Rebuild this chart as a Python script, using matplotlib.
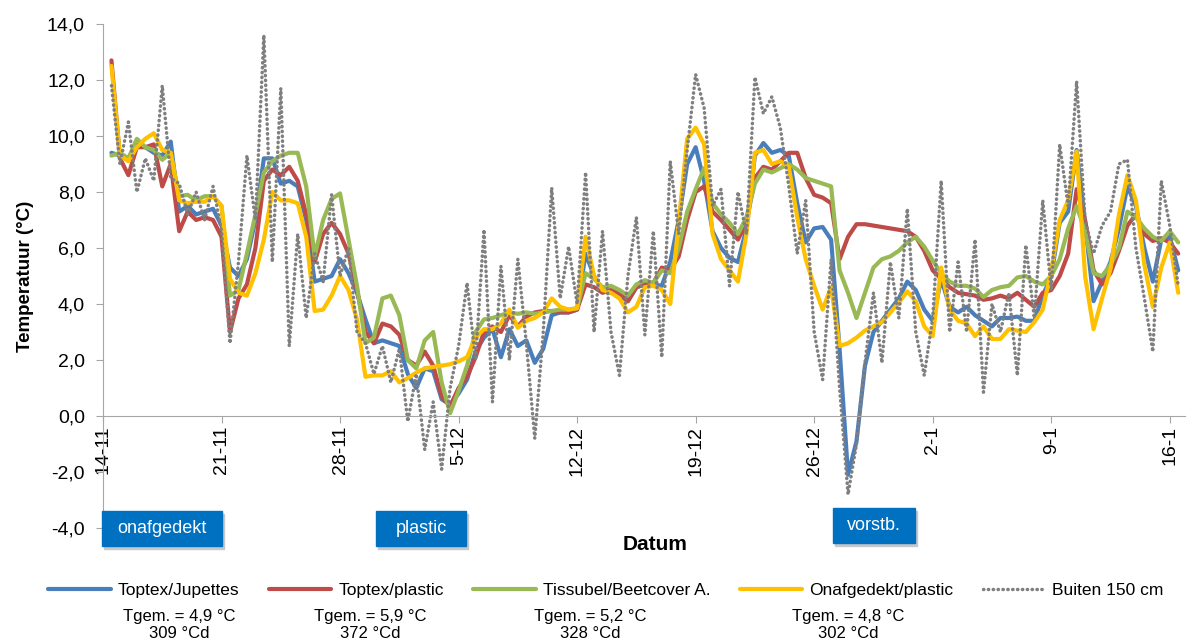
import numpy as np
import matplotlib.pyplot as plt
from matplotlib.patches import Rectangle
from matplotlib.ticker import FuncFormatter

plt.rcParams['font.family'] = ['Liberation Sans', 'DejaVu Sans']

# measurement times: days after 14-11, every 12 hours
days = np.arange(0.5, 64.0, 0.5)

# temperatures (deg C), one row = 5 days
toptex_jupettes = [
    9.4, 9.3, 9.2, 9.7, 9.6, 9.4, 9.3, 9.8, 7.3, 7.5,
    7.2, 7.3, 7.4, 6.8, 5.3, 5.0, 5.6, 7.0, 9.2, 9.2,
    8.3, 8.4, 8.2, 7.0, 4.8, 4.9, 5.0, 5.6, 5.1, 4.4,
    3.45, 2.6, 2.7, 2.6, 2.5, 1.5, 1.0, 1.7, 1.6, 0.6,
    0.4, 0.8, 1.3, 2.3, 2.8, 3.1, 2.1, 3.1, 2.5, 2.7,
    1.9, 2.4, 3.6, 3.7, 3.7, 3.8, 5.8, 5.0, 4.5, 4.4,
    4.3, 4.1, 4.6, 4.7, 4.7, 4.65, 5.5, 7.0, 9.0, 9.6,
    8.4, 6.6, 6.0, 5.65, 5.5, 6.7, 9.3, 9.75, 9.4, 9.5,
    9.3, 7.6, 6.2, 6.7, 6.75, 6.3, 2.4, -2.1, -0.9, 1.8,
    3.0, 3.4, 3.8, 4.2, 4.8, 4.5, 3.8, 3.4, 4.9, 3.9,
    3.7, 3.9, 3.6, 3.4, 3.2, 3.5, 3.5, 3.55, 3.4, 3.4,
    4.3, 5.0, 6.9, 7.3, 9.5, 6.9, 4.1, 4.8, 5.5, 6.7,
    8.2, 7.5, 6.0, 4.8, 6.3, 6.4, 5.2,
]

toptex_plastic = [
    12.7, 9.2, 8.6, 9.6, 9.6, 9.7, 8.2, 9.0, 6.6, 7.3,
    7.0, 7.1, 7.0, 6.4, 3.0, 4.2, 4.7, 6.0, 8.4, 8.8,
    8.6, 8.9, 8.4, 7.2, 5.5, 6.5, 6.9, 6.5, 5.8, 4.5,
    3.0, 2.6, 3.3, 3.2, 2.9, 2.0, 1.8, 2.3, 1.8, 0.7,
    0.35, 1.0, 1.4, 2.1, 3.0, 3.2, 3.0, 3.6, 3.2, 3.55,
    3.7, 3.75, 3.75, 3.7, 3.7, 3.8, 4.7, 4.6, 4.4, 4.5,
    4.4, 4.1, 4.6, 4.7, 4.75, 5.3, 5.2, 5.7, 7.0, 8.0,
    8.2, 7.3, 7.0, 6.65, 6.3, 6.9, 8.5, 8.9, 8.8, 9.1,
    9.4, 9.4, 8.5, 7.9, 7.8, 7.6, 5.6, 6.4, 6.85, 6.85,
    6.8, 6.75, 6.7, 6.65, 6.6, 6.4, 5.9, 5.2, 4.9, 4.6,
    4.4, 4.35, 4.3, 4.15, 4.2, 4.3, 4.2, 4.4, 4.15, 3.9,
    4.4, 4.5, 5.0, 5.8, 8.1, 7.0, 5.2, 4.7, 5.1, 5.9,
    6.8, 7.2, 6.5, 6.25, 6.35, 6.2, 5.8,
]

tissubel_beetcover = [
    9.3, 9.4, 9.2, 9.9, 9.6, 9.5, 9.15, 9.4, 7.85, 7.9,
    7.7, 7.85, 7.85, 7.5, 4.3, 4.5, 5.8, 7.2, 8.7, 9.1,
    9.3, 9.4, 9.4, 8.2, 5.7, 7.0, 7.75, 7.95, 6.3, 4.65,
    2.6, 2.8, 4.2, 4.3, 3.6, 2.0, 1.7, 2.7, 3.0, 1.2,
    0.1, 0.9, 1.8, 3.0, 3.45, 3.5, 3.6, 3.7, 3.65, 3.7,
    3.65, 3.7, 3.75, 3.8, 3.8, 3.85, 5.1, 4.9, 4.6, 4.65,
    4.5, 4.3, 4.7, 4.85, 4.75, 5.2, 5.1, 6.0, 7.3, 8.1,
    8.85, 7.6, 7.2, 6.9, 6.5, 7.1, 8.3, 8.8, 8.7, 8.85,
    9.0, 8.8, 8.5, 8.4, 8.3, 8.2, 5.2, 4.4, 3.5, 4.4,
    5.3, 5.6, 5.7, 5.9, 6.2, 6.4, 6.05, 5.55, 5.1, 4.8,
    4.65, 4.65, 4.55, 4.25, 4.5, 4.6, 4.65, 4.95, 5.0, 4.8,
    4.7, 5.0, 5.6, 6.7, 7.5, 6.6, 5.1, 5.0, 5.4, 6.0,
    7.3, 7.1, 6.7, 6.4, 6.25, 6.6, 6.2,
]

onafgedekt_plastic = [
    12.5, 9.3, 9.1, 9.6, 9.9, 10.1, 9.5, 9.4, 7.7, 7.6,
    7.65, 7.65, 7.85, 7.5, 4.9, 4.4, 4.3, 5.1, 6.3, 8.0,
    7.7, 7.7, 7.6, 6.4, 3.75, 3.8, 4.3, 5.0, 4.5, 3.45,
    1.4, 1.45, 1.45, 1.6, 1.2, 1.35, 1.55, 1.7, 1.75, 1.8,
    1.85, 1.95, 2.1, 2.8, 3.1, 3.1, 3.3, 3.8, 3.15, 3.4,
    3.5, 3.7, 4.2, 3.9, 3.8, 3.85, 6.4, 5.0, 4.5, 4.4,
    4.2, 3.7, 3.9, 4.6, 4.65, 4.5, 4.0, 6.9, 9.9, 10.3,
    9.7, 6.5, 5.6, 5.2, 4.8, 6.5, 9.4, 9.5, 9.0, 9.1,
    8.9, 7.1, 5.6, 4.65, 3.8, 4.6, 2.5, 2.6, 2.8, 3.05,
    3.2, 3.35, 3.7, 4.05, 4.45, 4.1, 3.2, 2.85, 5.3, 3.8,
    3.4, 3.3, 2.85, 3.2, 2.75, 2.75, 3.1, 3.05, 3.0, 3.35,
    3.8, 5.2, 7.0, 7.7, 9.45, 5.0, 3.1, 4.2, 5.25, 7.2,
    8.6, 7.7, 5.4, 3.9, 5.3, 6.2, 4.4,
]

buiten_150 = [
    11.8, 9.0, 10.5, 8.0, 9.2, 8.4, 11.8, 8.5, 8.3, 7.2,
    8.0, 7.0, 8.2, 6.6, 2.6, 5.5, 9.3, 7.0, 13.6, 5.5,
    11.7, 2.5, 6.5, 3.5, 5.8, 4.8, 7.9, 5.0, 6.0, 3.0,
    2.6, 1.5, 2.5, 1.2, 2.4, -0.2, 1.5, -1.2, 0.5, -1.9,
    1.0, 2.5, 4.75, 2.0, 6.65, 0.5, 5.35, 2.0, 5.6, 2.6,
    -0.8, 3.0, 8.15, 4.2, 6.05, 4.0, 8.7, 3.0, 6.6, 3.0,
    1.45, 5.0, 7.1, 2.9, 6.6, 2.1, 9.1, 6.5, 9.5, 12.2,
    11.0, 7.5, 8.1, 4.65, 8.0, 6.5, 12.1, 10.8, 11.4, 10.3,
    8.2, 5.8, 7.7, 3.0, 1.3, 5.6, 1.0, -2.8, -1.0, 1.9,
    4.4, 1.9, 5.5, 3.5, 7.4, 3.0, 1.45, 3.5, 8.4, 3.0,
    5.5, 3.0, 6.3, 0.85, 4.0, 3.0, 4.4, 1.45, 6.1, 3.5,
    7.7, 4.5, 9.7, 7.5, 11.95, 7.0, 5.8, 6.8, 7.3, 9.0,
    9.15, 6.0, 4.2, 2.3, 8.4, 6.8, 4.65,
]

series_names = ['Toptex/Jupettes', 'Toptex/plastic', 'Tissubel/Beetcover A.', 'Onafgedekt/plastic']
series_colors = ['#4a7ebb', '#be4b48', '#98b954', '#ffc000']
tgem = ['4,9', '5,9', '5,2', '4,8']
graaddagen = ['309', '372', '328', '302']

date_ticks = [0, 7, 14, 21, 28, 35, 42, 49, 56, 63]
date_labels = ['14-11', '21-11', '28-11', '5-12', '12-12', '19-12', '26-12', '2-1', '9-1', '16-1']

W, H = 1194, 640
fig = plt.figure(figsize=(W / 100, H / 100), dpi=100)
ax = fig.add_axes([103 / W, 1 - 528 / H, (1185 - 103) / W, (528 - 24) / H])

handles = []
for vals, col, name in zip([toptex_jupettes, toptex_plastic, tissubel_beetcover, onafgedekt_plastic],
                           series_colors, series_names):
    ln, = ax.plot(days, vals, color=col, lw=3.0, label=name,
                  solid_joinstyle='round', solid_capstyle='round')
    handles.append(ln)
ln, = ax.plot(days, buiten_150, color='#7f7f7f', lw=2.5, linestyle=(0, (0.1, 1.3)),
              dash_capstyle='round', label='Buiten 150 cm')
handles.append(ln)

ax.set_xlim(0, 63.9)
ax.set_ylim(-4, 14)
for s in ['top', 'right']:
    ax.spines[s].set_visible(False)
ax.spines['bottom'].set_position(('data', 0))
ax.spines['bottom'].set_color('#a6a6a6')
ax.spines['left'].set_color('#a6a6a6')

ax.set_yticks(np.arange(-4, 15, 2))
ax.yaxis.set_major_formatter(FuncFormatter(lambda v, p: f'{v:.1f}'.replace('.', ',')))
ax.set_xticks(date_ticks)
ax.set_xticklabels(date_labels, rotation=90)
ax.tick_params(axis='y', length=5, color='#a6a6a6', labelsize=14, pad=8)
ax.tick_params(axis='x', length=5, color='#a6a6a6', labelsize=14, pad=2)

fig.text(25 / W, 1 - 276 / H, 'Temperatuur (°C)', rotation=90, ha='center', va='center',
         fontsize=13.5, fontweight='bold')
fig.text(655 / W, 1 - 545 / H, 'Datum', ha='center', va='center', fontsize=15, fontweight='bold')

# blue labels for the treatments
boxes = [('onafgedekt', 102, 222, 511, 546), ('plastic', 376, 466, 511, 546), ('vorstb.', 833, 915, 508, 543)]
for label, x0, x1, y0, y1 in boxes:
    fig.patches.append(Rectangle((x0 / W + 0.002, 1 - y1 / H - 0.004), (x1 - x0) / W, (y1 - y0) / H,
                                 transform=fig.transFigure, color='#c8c8c8', zorder=1))
    fig.patches.append(Rectangle((x0 / W, 1 - y1 / H), (x1 - x0) / W, (y1 - y0) / H,
                                 transform=fig.transFigure, color='#0070c0', zorder=2))
    fig.text((x0 + x1) / 2 / W, 1 - (y0 + y1) / 2 / H, label, color='white', fontsize=13,
             ha='center', va='center', zorder=3)

fig.legend(handles=handles, ncol=5, loc='center', bbox_to_anchor=(606 / W, 1 - 590 / H),
           frameon=False, fontsize=12.5, handlelength=3.6, handletextpad=0.4, columnspacing=1.7)

text_x = [179, 370, 590, 848]
for cx, t, gd in zip(text_x, tgem, graaddagen):
    fig.text(cx / W, 1 - 616 / H, f'Tgem. = {t} °C', ha='center', va='center', fontsize=12)
    fig.text(cx / W, 1 - 633 / H, f'{gd} °Cd', ha='center', va='center', fontsize=12)

fig.savefig('out.png', dpi=100)
